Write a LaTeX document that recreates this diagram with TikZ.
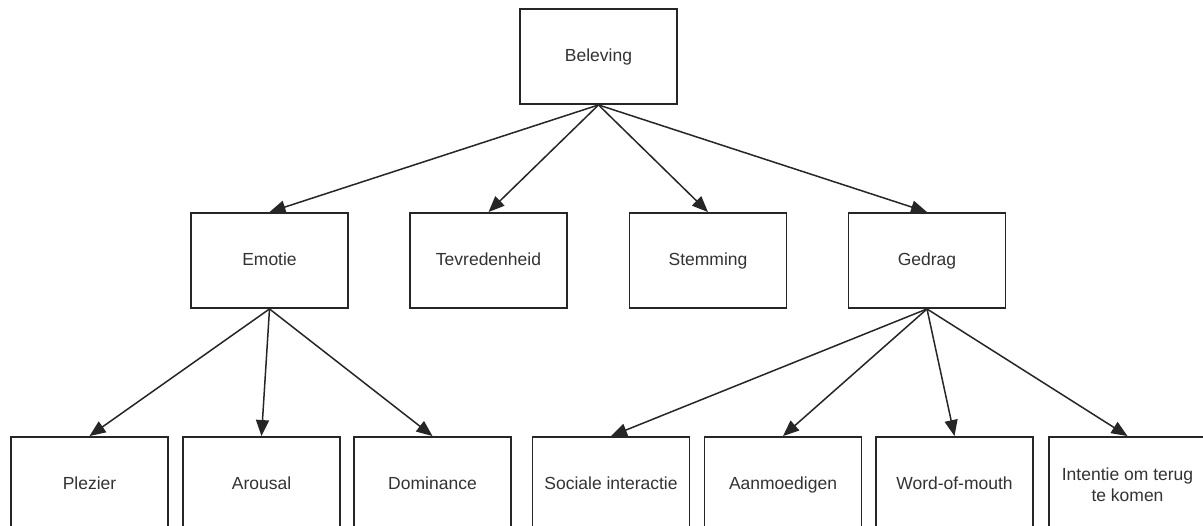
\documentclass[tikz,border=0pt]{standalone}
\usepackage{fontspec}
\setmainfont{Liberation Sans}
\usetikzlibrary{arrows.meta}

\tikzset{
  box/.style={draw=black!85, line width=1.9pt, fill=white,
    minimum width=157pt, minimum height=95pt, inner sep=2pt,
    text=black!80, text height=13.5pt, text depth=2.5pt,
    font=\fontsize{17.5}{21}\selectfont},
  twoline/.style={box, align=center, text height=, text depth=},
  link/.style={draw=black!85, line width=1.5pt,
    -{Triangle[length=16pt,width=13pt]}}
}

\begin{document}
\begin{tikzpicture}[x=1pt, y=-1pt]
  \useasboundingbox (0,0) rectangle (1203,526);
  \clip (0,0) rectangle (1203,526);
  \fill[white] (0,0) rectangle (1203,526);

  % top level
  \node[box] (bel) at (598.5,56.5) {Beleving};

  % second level
  \node[box] (emo) at (269.5,260.5) {Emotie};
  \node[box] (tev) at (488.5,260.5) {Tevredenheid};
  \node[box] (ste) at (708,260.5) {Stemming};
  \node[box] (ged) at (927,260.5) {Gedrag};

  % third level
  \node[box] (ple) at (89.5,484.5) {Plezier};
  \node[box] (aro) at (261.5,484.5) {Arousal};
  \node[box] (dom) at (432.5,484.5) {Dominance};
  \node[box] (soc) at (611,484.5) {Sociale interactie};
  \node[box] (aan) at (783,484.5) {Aanmoedigen};
  \node[box] (wom) at (954.5,484.5) {Word-of-mouth};
  \node[twoline] (int) at (1127.5,484.5) {Intentie om terug\\te komen};

  % connectors
  \foreach \c in {emo,tev,ste,ged}
    \draw[link] (bel.south) -- (\c.north);
  \foreach \c in {ple,aro,dom}
    \draw[link] (emo.south) -- (\c.north);
  \foreach \c in {soc,aan,wom,int}
    \draw[link] (ged.south) -- (\c.north);
\end{tikzpicture}
\end{document}
